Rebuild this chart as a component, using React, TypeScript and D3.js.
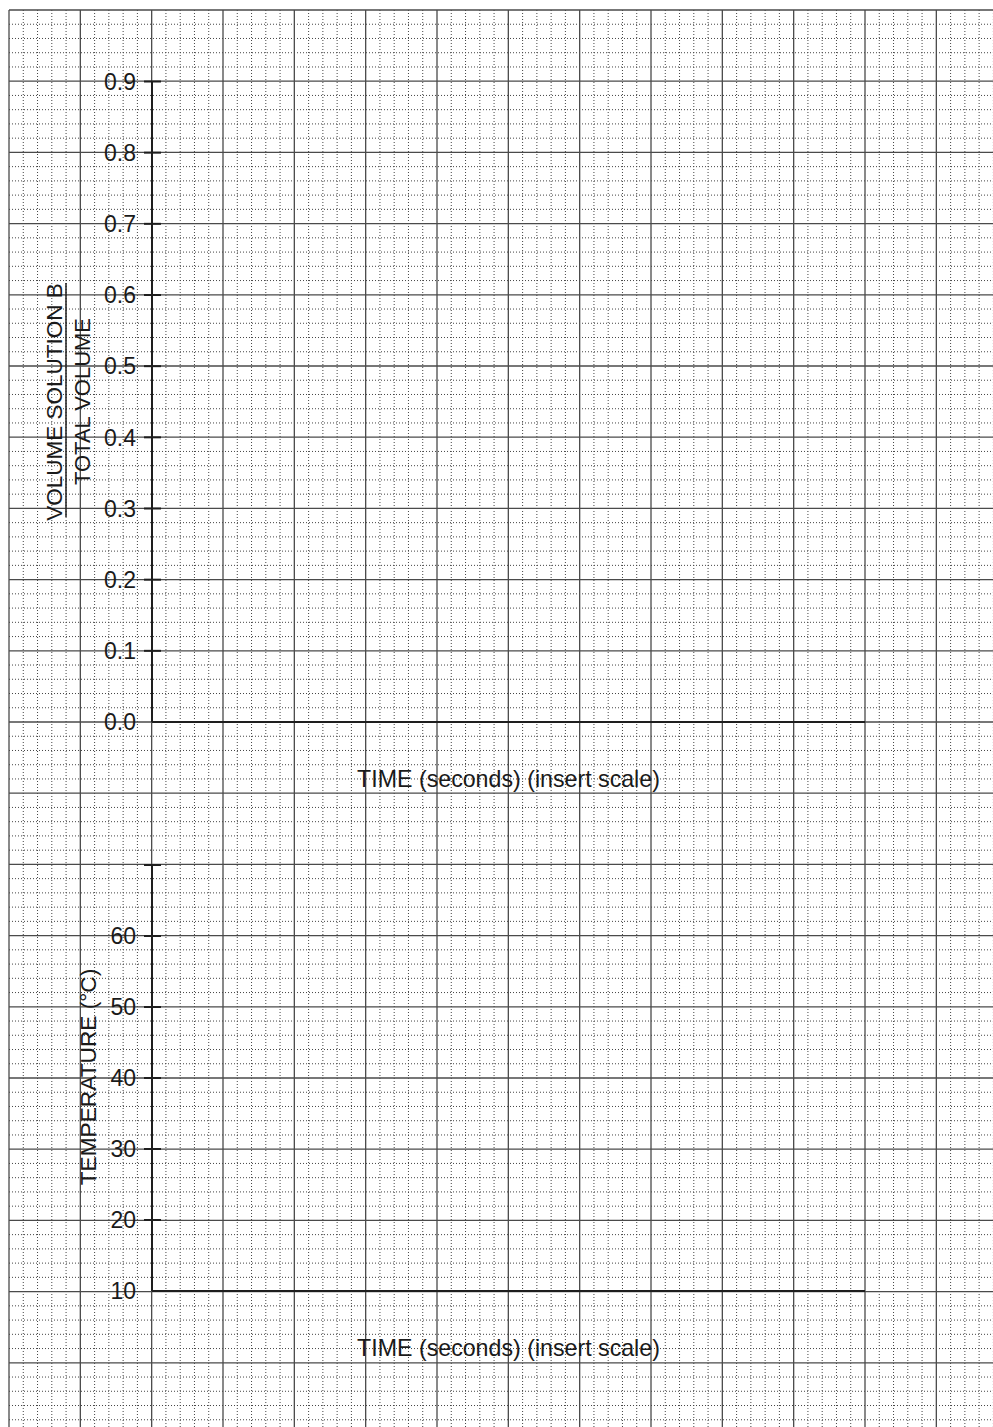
import React from "react";
import * as d3 from "d3";

const W = 993;
const H = 1427;

// Grid (graph paper) in "major square" units
const gridCols = 14;
const gridRows = 20;
const minorPerMajor = 5;

// Top chart
const volumeTicks = [0.0, 0.1, 0.2, 0.3, 0.4, 0.5, 0.6, 0.7, 0.8, 0.9];
const volumeLabelTop = "VOLUME SOLUTION B";
const volumeLabelBottom = "TOTAL VOLUME";
const timeLabel = "TIME (seconds) (insert scale)";

// Bottom chart
const tempTicks = [10, 20, 30, 40, 50, 60, 70];
const tempTickLabels = ["10", "20", "30", "40", "50", "60", ""];
const tempLabel = "TEMPERATURE (°C)";

const timeDomain = [0, 10];

const FONT = "'Liberation Sans', Arial, Helvetica, sans-serif";

export default function App() {
  const gx = d3.scaleLinear().domain([0, 12]).range([9, 865]);
  const gy = d3.scaleLinear().domain([0, 10]).range([10, 722]);

  const xTime = d3.scaleLinear().domain(timeDomain).range([152, 865]);
  const yVol = d3.scaleLinear().domain([0, 0.9]).range([722, 81.5]);
  const yTemp = d3.scaleLinear().domain([10, 70]).range([1291, 865]);

  const minorX = d3.range(0, gridCols * minorPerMajor + 1).filter((i) => i % minorPerMajor !== 0).map((i) => gx(i / minorPerMajor));
  const minorY = d3.range(0, gridRows * minorPerMajor + 1).filter((i) => i % minorPerMajor !== 0).map((i) => gy(i / minorPerMajor));
  const majorX = d3.range(0, gridCols + 1).map((i) => gx(i));
  const majorY = d3.range(0, gridRows + 1).map((i) => gy(i));

  const axisColor = "#1e1e1e";
  const textColor = "#1a1a1a";

  return (
    <div style={{ position: "absolute", left: 0, top: 0, width: W, height: H, background: "#fff" }}>
      <svg width={W} height={H} style={{ display: "block" }}>
        <rect x={0} y={0} width={W} height={H} fill="#fff" />
        {/* minor grid */}
        <g stroke="#444" strokeWidth={1} strokeDasharray="1 2">
          {minorX.map((x, i) => (
            <line key={"mx" + i} x1={x} x2={x} y1={gy(0)} y2={H} />
          ))}
          {minorY.map((y, i) => (
            <line key={"my" + i} x1={gx(0)} x2={W} y1={y} y2={y} />
          ))}
        </g>
        {/* major grid */}
        <g stroke="#4a4a4a" strokeWidth={1.3}>
          {majorX.map((x, i) => (
            <line key={"Mx" + i} x1={x} x2={x} y1={gy(0)} y2={H} />
          ))}
          {majorY.map((y, i) => (
            <line key={"My" + i} x1={gx(0)} x2={W} y1={y} y2={y} />
          ))}
        </g>

        {/* TOP CHART */}
        <g>
          <line x1={xTime(0)} x2={xTime(0)} y1={yVol(0.9)} y2={yVol(0)} stroke={axisColor} strokeWidth={2} />
          <line x1={xTime(0)} x2={xTime(10)} y1={yVol(0)} y2={yVol(0)} stroke={axisColor} strokeWidth={2} />
          {volumeTicks.map((v) => (
            <g key={"vt" + v}>
              {v > 0 && (
                <line x1={xTime(0) - 8} x2={xTime(0) + 9} y1={yVol(v)} y2={yVol(v)} stroke={axisColor} strokeWidth={2} />
              )}
              <text x={136} y={yVol(v)} dy="0.36em" textAnchor="end" fontFamily={FONT} fontSize={23} fill={textColor}>
                {v.toFixed(1)}
              </text>
            </g>
          ))}
          <text
            transform={`translate(61.5, 402) rotate(-90)`}
            textAnchor="middle"
            fontFamily={FONT}
            fontSize={22.5}
            fill={textColor}
          >
            {volumeLabelTop}
          </text>
          <line x1={66} x2={66} y1={283} y2={517} stroke={axisColor} strokeWidth={1.5} />
          <text
            transform={`translate(90, 401.5) rotate(-90)`}
            textAnchor="middle"
            fontFamily={FONT}
            fontSize={22}
            fill={textColor}
          >
            {volumeLabelBottom}
          </text>
          <text x={(xTime(0) + xTime(10)) / 2} y={787} textAnchor="middle" fontFamily={FONT} fontSize={23.2} fill={textColor}>
            {timeLabel}
          </text>
        </g>

        {/* BOTTOM CHART */}
        <g>
          <line x1={xTime(0)} x2={xTime(0)} y1={yTemp(70)} y2={yTemp(10)} stroke={axisColor} strokeWidth={2} />
          <line x1={xTime(0)} x2={xTime(10)} y1={yTemp(10)} y2={yTemp(10)} stroke={axisColor} strokeWidth={2} />
          {tempTicks.map((t, i) => (
            <g key={"tt" + t}>
              {t > 10 && (
                <line x1={xTime(0) - 8} x2={xTime(0) + 9} y1={yTemp(t)} y2={yTemp(t)} stroke={axisColor} strokeWidth={2} />
              )}
              <text x={136} y={yTemp(t)} dy="0.36em" textAnchor="end" fontFamily={FONT} fontSize={23} fill={textColor}>
                {tempTickLabels[i]}
              </text>
            </g>
          ))}
          <text
            transform={`translate(95.5, 1077) rotate(-90)`}
            textAnchor="middle"
            fontFamily={FONT}
            fontSize={22.7}
            fill={textColor}
          >
            {tempLabel}
          </text>
          <text x={(xTime(0) + xTime(10)) / 2} y={1356} textAnchor="middle" fontFamily={FONT} fontSize={23.2} fill={textColor}>
            {timeLabel}
          </text>
        </g>
      </svg>
    </div>
  );
}
